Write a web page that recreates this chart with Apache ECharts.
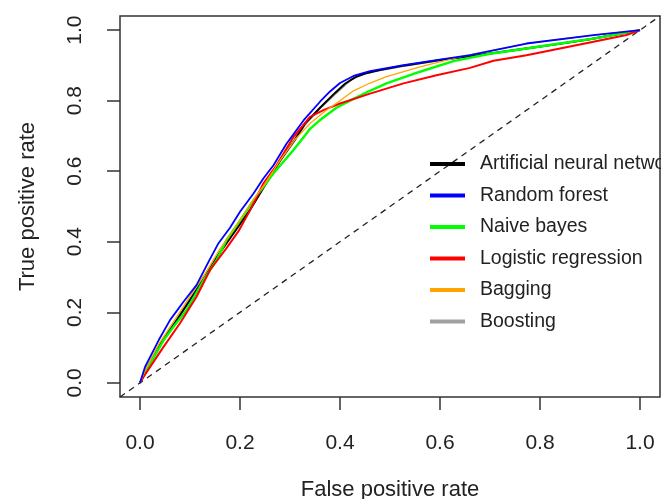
<!DOCTYPE html>
<html>

<head>
  <meta charset="utf-8">
  <title>ROC</title>
  <script src="https://cdn.jsdelivr.net/npm/echarts@6/dist/echarts.min.js"></script>
</head>
<style>
  * {
    padding: 0;
    margin: 0;
  }

  #main {
    width: 661px;
    height: 499px;
    overflow: hidden;
    position: absolute;
    background: #fff;
  }
</style>

<body>
  <div id="main"></div>
  <script type="text/javascript">
    // tick labels
    var ticks = [0, 0.2, 0.4, 0.6, 0.8, 1.0];

    // model names (legend order)
    var models = ['Artificial neural network', 'Random forest', 'Naive bayes', 'Logistic regression', 'Bagging', 'Boosting'];

    // ROC points [fpr, tpr]
    var ann = [[0, 0], [0.01, 0.03], [0.04, 0.11], [0.07, 0.17], [0.1, 0.235], [0.13, 0.3], [0.16, 0.37], [0.19, 0.43],
      [0.22, 0.49], [0.25, 0.56], [0.28, 0.63], [0.31, 0.69], [0.33, 0.735], [0.36, 0.78], [0.39, 0.822], [0.41, 0.848],
      [0.43, 0.866], [0.45, 0.877], [0.48, 0.887], [0.53, 0.9], [0.6, 0.915], [0.66, 0.926], [0.72, 0.937], [0.78, 0.949],
      [0.84, 0.961], [0.9, 0.974], [0.95, 0.987], [1, 1]];
    var rf = [[0, 0], [0.01, 0.045], [0.037, 0.12], [0.06, 0.178], [0.087, 0.23], [0.113, 0.277], [0.137, 0.343],
      [0.157, 0.396], [0.18, 0.44], [0.2, 0.485], [0.227, 0.537], [0.247, 0.58], [0.267, 0.617], [0.293, 0.678],
      [0.327, 0.744], [0.36, 0.797], [0.38, 0.826], [0.4, 0.85], [0.427, 0.87], [0.46, 0.884], [0.527, 0.901],
      [0.593, 0.915], [0.66, 0.929], [0.773, 0.962], [0.907, 0.986], [1, 1]];
    var nb = [[0, 0], [0.01, 0.03], [0.047, 0.12], [0.067, 0.159], [0.093, 0.206], [0.127, 0.291], [0.153, 0.348],
      [0.173, 0.405], [0.2, 0.46], [0.227, 0.518], [0.267, 0.594], [0.307, 0.66], [0.34, 0.72], [0.36, 0.745],
      [0.393, 0.78], [0.427, 0.805], [0.46, 0.828], [0.493, 0.849], [0.56, 0.882], [0.627, 0.912], [0.7, 0.933],
      [0.773, 0.948], [0.84, 0.962], [0.907, 0.976], [1, 1]];
    var lr = [[0, 0], [0.007, 0.017], [0.047, 0.102], [0.08, 0.169], [0.113, 0.244], [0.14, 0.32], [0.173, 0.382],
      [0.197, 0.43], [0.22, 0.489], [0.247, 0.566], [0.273, 0.617], [0.307, 0.697], [0.34, 0.754], [0.367, 0.773],
      [0.4, 0.792], [0.46, 0.82], [0.527, 0.849], [0.593, 0.872], [0.66, 0.893], [0.707, 0.913], [0.773, 0.929],
      [0.84, 0.948], [0.907, 0.967], [0.973, 0.986], [1, 1]];
    var bagging = [[0, 0], [0.01, 0.035], [0.04, 0.115], [0.07, 0.18], [0.1, 0.245], [0.13, 0.31], [0.16, 0.38],
      [0.19, 0.44], [0.22, 0.505], [0.25, 0.565], [0.28, 0.63], [0.31, 0.69], [0.34, 0.735], [0.37, 0.77],
      [0.4, 0.8], [0.427, 0.828], [0.46, 0.85], [0.493, 0.868], [0.56, 0.896], [0.64, 0.924], [0.773, 0.962],
      [0.907, 0.986], [1, 1]];
    var boosting = [[0, 0], [0.01, 0.032], [0.04, 0.112], [0.07, 0.172], [0.1, 0.238], [0.13, 0.302], [0.16, 0.372],
      [0.19, 0.432], [0.22, 0.492], [0.25, 0.562], [0.28, 0.628], [0.31, 0.688], [0.33, 0.732], [0.36, 0.778],
      [0.39, 0.818], [0.42, 0.857], [0.44, 0.873], [0.47, 0.884], [0.53, 0.899], [0.6, 0.914], [0.66, 0.926],
      [0.78, 0.95], [0.9, 0.975], [1, 1]];

    // chance line
    var chance = [[-0.04, -0.04], [1.04, 1.04]];

    var colors = ['#000000', '#0000FF', '#00FF00', '#FF0000', '#FFA500', '#A0A0A0'];

    function line(name, data, color, width, z) {
      return {
        name: name,
        type: 'line',
        data: data,
        symbol: 'none',
        z: z,
        animation: false,
        lineStyle: { color: color, width: width },
        itemStyle: { color: color }
      };
    }

    var axisFont = 'Liberation Sans, Arial, sans-serif';

    var option = {
      backgroundColor: '#fff',
      grid: {
        left: 120, right: 1, top: 16, bottom: 102,
        outerBoundsMode: 'none',
        show: true, borderColor: '#333', borderWidth: 1.5
      },
      legend: {
        orient: 'vertical',
        left: 430,
        top: 154,
        padding: 0,
        itemWidth: 35,
        itemHeight: 4,
        itemGap: 11.5,
        icon: 'rect',
        data: models,
        textStyle: {
          fontFamily: axisFont, fontSize: 19.5, color: '#222',
          lineHeight: 20, padding: [0, 0, 0, 10]
        }
      },
      xAxis: {
        type: 'value',
        min: -0.04,
        max: 1.04,
        splitLine: { show: false },
        axisLine: { show: false, onZero: false },
        axisTick: {
          show: true, length: 13, customValues: ticks,
          lineStyle: { color: '#333', width: 1.5 }
        },
        axisLabel: {
          customValues: ticks, margin: 36,
          fontFamily: axisFont, fontSize: 21, color: '#222',
          formatter: function (v) { return v.toFixed(1); }
        },
        name: 'False positive rate',
        nameLocation: 'middle',
        nameGap: 82,
        nameTextStyle: { fontFamily: axisFont, fontSize: 22, color: '#222' }
      },
      yAxis: {
        type: 'value',
        min: -0.04,
        max: 1.04,
        splitLine: { show: false },
        axisLine: { show: false, onZero: false },
        axisTick: {
          show: true, length: 13, customValues: ticks,
          lineStyle: { color: '#333', width: 1.5 }
        },
        axisLabel: {
          customValues: ticks, margin: 34, rotate: 90,
          fontFamily: axisFont, fontSize: 21, color: '#222',
          formatter: function (v) { return v.toFixed(1); }
        },
        name: 'True positive rate',
        nameLocation: 'middle',
        nameGap: 81,
        nameTextStyle: { fontFamily: axisFont, fontSize: 22, color: '#222' }
      },
      series: [
        line(models[5], boosting, colors[5], 1.8, 1),
        line(models[0], ann, colors[0], 2, 2),
        line(models[2], nb, colors[2], 2.4, 3),
        line(models[3], lr, colors[3], 2, 4),
        line(models[4], bagging, colors[4], 1.3, 5),
        line(models[1], rf, colors[1], 1.8, 6),
        {
          type: 'line',
          data: chance,
          symbol: 'none',
          silent: true,
          z: 0,
          animation: false,
          lineStyle: { color: '#222', width: 1.3, type: [6, 5] }
        }
      ]
    };

    var myChart = echarts.init(document.getElementById('main'));
    myChart.setOption(option);
  </script>
</body>

</html>
